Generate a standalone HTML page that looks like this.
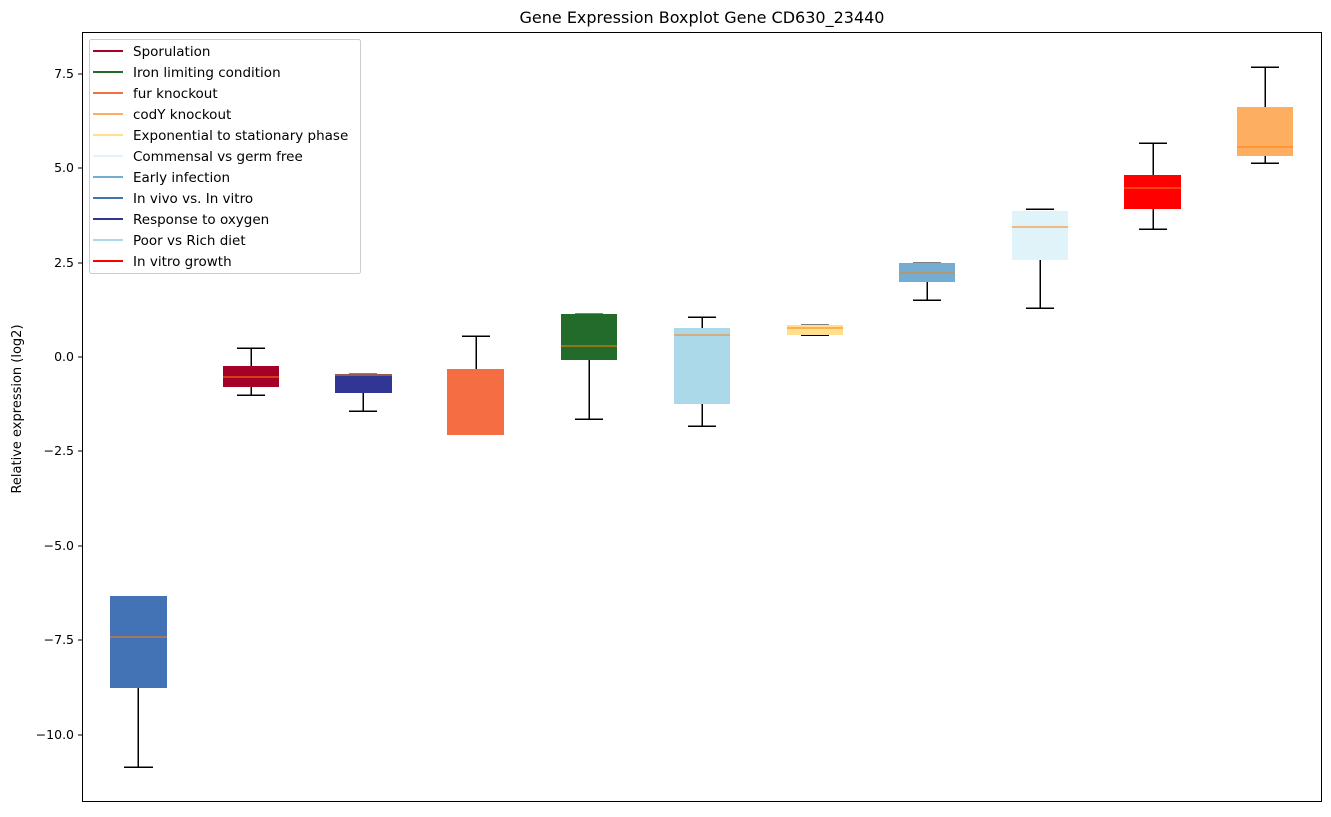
<!DOCTYPE html>
<html><head><meta charset="utf-8"><style>
html,body{margin:0;padding:0;background:#fff;}
svg text{font-family:"DejaVu Sans","Liberation Sans",sans-serif;fill:#000;}
</style></head><body>
<svg width="1331" height="812" viewBox="0 0 1331 812" xmlns="http://www.w3.org/2000/svg">
<rect width="1331" height="812" fill="#fff"/>
<text x="702" y="23" font-size="16" text-anchor="middle">Gene Expression Boxplot Gene CD630_23440</text>
<text transform="translate(21,409) rotate(-90)" font-size="13" text-anchor="middle">Relative expression (log2)</text>
<g font-size="12.5" text-anchor="end">
<line x1="78" y1="74" x2="82" y2="74" stroke="#000"/><text x="74" y="78">7.5</text>
<line x1="78" y1="168" x2="82" y2="168" stroke="#000"/><text x="74" y="172">5.0</text>
<line x1="78" y1="263" x2="82" y2="263" stroke="#000"/><text x="74" y="267">2.5</text>
<line x1="78" y1="357" x2="82" y2="357" stroke="#000"/><text x="74" y="361">0.0</text>
<line x1="78" y1="451" x2="82" y2="451" stroke="#000"/><text x="74" y="455">−2.5</text>
<line x1="78" y1="546" x2="82" y2="546" stroke="#000"/><text x="74" y="550">−5.0</text>
<line x1="78" y1="640" x2="82" y2="640" stroke="#000"/><text x="74" y="644">−7.5</text>
<line x1="78" y1="735" x2="82" y2="735" stroke="#000"/><text x="74" y="739">−10.0</text>
</g>
<g stroke="#000" stroke-width="1.5" fill="none" shape-rendering="crispEdges">
<path d="M138 596V767M124 767H153"/>
<path d="M251 366V348M237 348H265M251 387V395M237 395H265"/>
<path d="M363 393V411M349 411H377M349 374H377"/>
<path d="M476 369V336M462 336H490"/>
<path d="M589 360V419M575 419H603M575 314H603"/>
<path d="M702 328V317M688 317H716M702 404V426M688 426H716"/>
<path d="M801 325H829M801 335H829"/>
<path d="M927 282V300M913 300H941M913 263H941"/>
<path d="M1040 260V308M1026 308H1054M1026 209H1054"/>
<path d="M1153 175V143M1139 143H1167M1153 209V229M1139 229H1167"/>
<path d="M1265 107V67M1251 67H1279M1265 156V163M1251 163H1279"/>
</g>
<g>
<rect x="110" y="596" width="57" height="92" fill="#4372b5"/><line x1="110" x2="167" y1="637" y2="637" stroke="#ff7f0e"/>
<rect x="223" y="366" width="56" height="21" fill="#a50026"/><line x1="223" x2="279" y1="377" y2="377" stroke="#ff7f0e"/>
<rect x="335" y="374" width="57" height="19" fill="#313695"/><line x1="335" x2="392" y1="375" y2="375" stroke="#ff7f0e"/>
<rect x="447" y="369" width="57" height="66" fill="#f46d43"/>
<rect x="561" y="314" width="56" height="46" fill="#236b2b"/><line x1="561" x2="617" y1="346" y2="346" stroke="#ff7f0e"/>
<rect x="674" y="328" width="56" height="76" fill="#abd9e9"/><line x1="674" x2="730" y1="335" y2="335" stroke="#ff7f0e"/>
<rect x="787" y="325" width="56" height="10" fill="#fee090"/><line x1="787" x2="843" y1="328" y2="328" stroke="#ff7f0e"/>
<rect x="899" y="263" width="56" height="19" fill="#74add1"/><line x1="899" x2="955" y1="273" y2="273" stroke="#ff7f0e"/>
<rect x="1012" y="211" width="56" height="49" fill="#e0f3f8"/><line x1="1012" x2="1068" y1="227" y2="227" stroke="#ff7f0e"/>
<rect x="1124" y="175" width="57" height="34" fill="#ff0000"/><line x1="1124" x2="1181" y1="188" y2="188" stroke="#ff7f0e"/>
<rect x="1237" y="107" width="56" height="49" fill="#fdae61"/><line x1="1237" x2="1293" y1="147" y2="147" stroke="#ff7f0e"/>
</g>
<rect x="82.5" y="32.5" width="1239" height="769" fill="none" stroke="#000"/>
<rect x="89.5" y="39.5" width="271" height="234" rx="2" fill="#fff" fill-opacity="0.8" stroke="#ccc"/>
<g font-size="13.5" stroke-width="2">
<line x1="93" x2="123" y1="51" y2="51" stroke="#a50026"/><text x="133" y="56">Sporulation</text>
<line x1="93" x2="123" y1="72" y2="72" stroke="#236b2b"/><text x="133" y="77">Iron limiting condition</text>
<line x1="93" x2="123" y1="93" y2="93" stroke="#f46d43"/><text x="133" y="98">fur knockout</text>
<line x1="93" x2="123" y1="114" y2="114" stroke="#fdae61"/><text x="133" y="119">codY knockout</text>
<line x1="93" x2="123" y1="135" y2="135" stroke="#fee090"/><text x="133" y="140">Exponential to stationary phase</text>
<line x1="93" x2="123" y1="156" y2="156" stroke="#e0f3f8"/><text x="133" y="161">Commensal vs germ free</text>
<line x1="93" x2="123" y1="177" y2="177" stroke="#74add1"/><text x="133" y="182">Early infection</text>
<line x1="93" x2="123" y1="198" y2="198" stroke="#4372b5"/><text x="133" y="203">In vivo vs. In vitro</text>
<line x1="93" x2="123" y1="219" y2="219" stroke="#313695"/><text x="133" y="224">Response to oxygen</text>
<line x1="93" x2="123" y1="240" y2="240" stroke="#abd9e9"/><text x="133" y="245">Poor vs Rich diet</text>
<line x1="93" x2="123" y1="261" y2="261" stroke="#ff0000"/><text x="133" y="266">In vitro growth</text>
</g>
</svg>
</body></html>
